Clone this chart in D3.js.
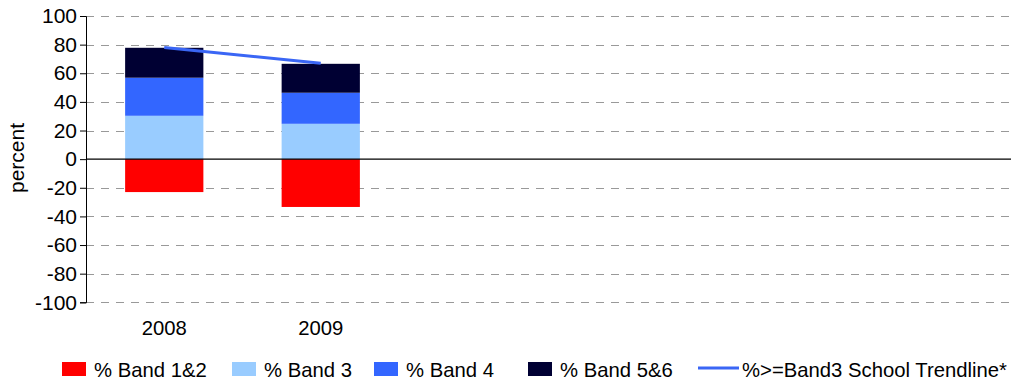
<!DOCTYPE html>
<html><head><meta charset="utf-8">
<script src="https://cdn.jsdelivr.net/npm/d3@7"></script>
<style>body{margin:0;background:#fff}svg text{font-family:"Liberation Sans",Arial,sans-serif;fill:#000}</style>
</head><body><svg id="c" width="1011" height="382"></svg>
<script>
const categories = ["2008","2009","","","",""];
const band12 = [-23, -33.4];
const band3 = [30.3, 24.7];
const band4 = [26.6, 21.7];
const band56 = [20.9, 20.2];
const trend = [78, 67];
const yTicks = [-100,-80,-60,-40,-20,0,20,40,60,80,100];
const seriesNames = ["% Band 1&2","% Band 3","% Band 4","% Band 5&6"];
const seriesColors = ["#ff0000","#99ccff","#3366ff","#000033"];
const lineName = "%>=Band3 School Trendline*";
const lineColor = "#3a66f5";

const svg = d3.select("#c");
const plotLeft = 86, plotTop = 16, plotBottom = 302.3;
const fs = "20.3px";
const x = d3.scaleBand().domain(d3.range(categories.length)).range([plotLeft, plotLeft + 156.5*categories.length]).paddingInner(0.5).paddingOuter(0.25);
const y = d3.scaleLinear().domain([-100,100]).range([plotBottom, plotTop]);

// gridlines
svg.append("g").selectAll("line").data(yTicks.filter(d=>d!==0)).join("line")
  .attr("x1", plotLeft).attr("x2", 1011).attr("y1", d=>Math.round(y(d))+0.5).attr("y2", d=>Math.round(y(d))+0.5)
  .attr("stroke", "#999").attr("stroke-width", 1).attr("stroke-dasharray", "8,7");

// stacked bars
const pos = [band3, band4, band56];
const posColors = [seriesColors[1], seriesColors[2], seriesColors[3]];
categories.forEach((c,i)=>{
  if (i >= band3.length) return;
  let base = 0;
  pos.forEach((arr,k)=>{
    svg.append("rect").attr("x", x(i)).attr("width", x.bandwidth())
      .attr("y", y(base+arr[i])).attr("height", y(base)-y(base+arr[i]))
      .attr("fill", posColors[k]);
    base += arr[i];
  });
  svg.append("rect").attr("x", x(i)).attr("width", x.bandwidth())
    .attr("y", y(0)).attr("height", y(band12[i])-y(0)).attr("fill", seriesColors[0]);
});

// zero line
svg.append("line").attr("x1", plotLeft).attr("x2", 1011).attr("y1", y(0)).attr("y2", y(0))
  .attr("stroke","#000").attr("stroke-width",1.3);

// y axis
const yAxis = d3.axisLeft(y).tickValues(yTicks).tickSize(6).tickPadding(3).tickFormat(d=>String(d));
const ya = svg.append("g").attr("transform",`translate(${plotLeft},0)`).call(yAxis);
ya.select(".domain").attr("stroke","#000");
ya.selectAll(".tick line").attr("stroke","#000");
ya.selectAll("text").style("font-size","21px").attr("fill","#000");

// x labels
const xAxis = d3.axisBottom(x).tickSize(0).tickPadding(0).tickFormat(i=>categories[i]);
const xa = svg.append("g").attr("transform",`translate(0,${plotBottom+18})`).call(xAxis);
xa.select(".domain").remove();
xa.selectAll("text").style("font-size",fs).attr("fill","#000");

// trendline
svg.append("path").datum(trend)
  .attr("d", d3.line().x((d,i)=>x(i)+x.bandwidth()/2).y(d=>y(d)))
  .attr("fill","none").attr("stroke",lineColor).attr("stroke-width",3);

// y label
svg.append("text").attr("transform","translate(24,158) rotate(-90)")
  .attr("text-anchor","middle").style("font-size","21px").text("percent");

// legend
const legX = [62, 232, 374, 528];
const lg = svg.append("g");
seriesNames.forEach((n,k)=>{
  lg.append("rect").attr("x",legX[k]).attr("y",362).attr("width",24).attr("height",14).attr("fill",seriesColors[k]);
  lg.append("text").attr("x",legX[k]+32).attr("y",377).style("font-size",fs).text(n);
});
lg.append("line").attr("x1",698).attr("x2",739).attr("y1",368).attr("y2",368).attr("stroke",lineColor).attr("stroke-width",3);
lg.append("text").attr("x",742).attr("y",377).style("font-size",fs).text(lineName);
</script></body></html>
